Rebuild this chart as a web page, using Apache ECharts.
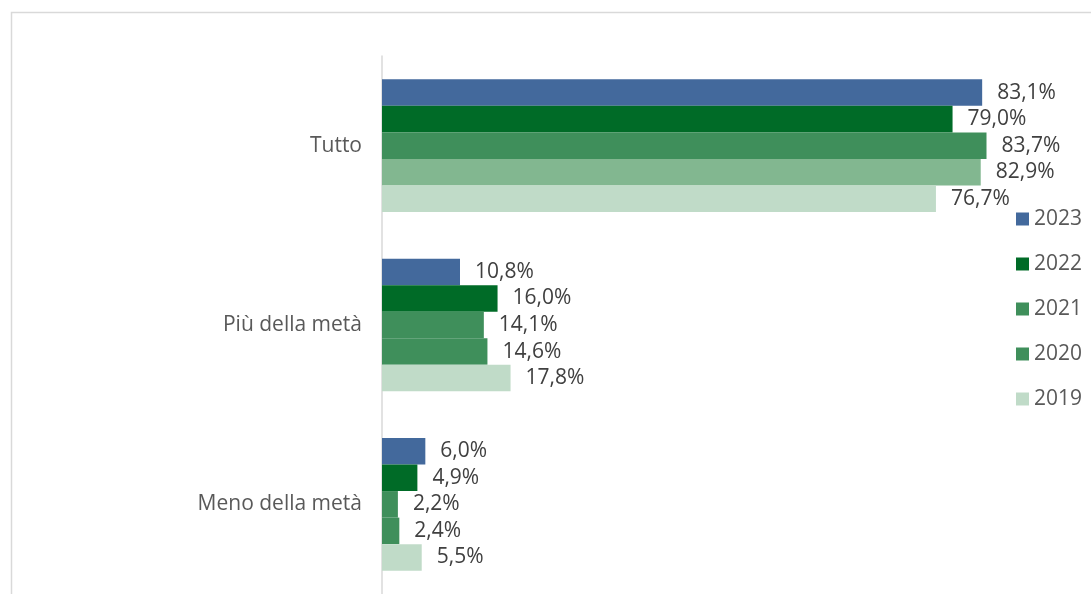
<!DOCTYPE html>
<html style="height: 100%">
<head>
	<meta charset="utf-8">
	<script src="https://cdn.jsdelivr.net/npm/echarts@6/dist/echarts.min.js"></script>
	<style>
		body { margin: 0; background: #fff; }
		#container { width: 1091px; height: 594px; }
	</style>
</head>
<body>
	<div id="container"></div>
	<script>
		// categorie (dall'alto)
		var categories = ['Tutto', 'Più della metà', 'Meno della metà'];
		var years = ['2023', '2022', '2021', '2020', '2019'];

		// valori in %
		var v2023 = [83.1, 10.8, 6.0];
		var v2022 = [79.0, 16.0, 4.9];
		var v2021 = [83.7, 14.1, 2.2];
		var v2020 = [82.9, 14.6, 2.4];
		var v2019 = [76.7, 17.8, 5.5];

		var colors = ['#43699C', '#006B27', '#3F8F5B', '#3F8F5B', '#C0DBC8'];

		var values = [v2023, v2022, v2021, v2020, v2019];

		var font = 'Open Sans';

		function fmt(p) {
			return p.value.toFixed(1).replace('.', ',') + '%';
		}

		var series = years.map(function(y, i) {
			var data = values[i].map(function(v, j) {
				// la barra 2020 di "Tutto" ha un verde più chiaro
				if(y === '2020' && j === 0) {
					return { value: v, itemStyle: { color: '#82B790' } };
				}
				return v;
			});
			return {
				name: y,
				type: 'bar',
				data: data,
				barGap: '0%',
				barCategoryGap: '26%',
				itemStyle: { color: colors[i] },
				label: {
					show: true,
					position: 'right',
					distance: 15,
					color: '#404040',
					fontFamily: font,
					fontSize: 21,
					formatter: fmt
				}
			};
		});

		var myChart = echarts.init(document.getElementById('container'));
		myChart.setOption({
			animation: false,
			backgroundColor: '#fff',
			graphic: [{
				type: 'rect',
				shape: { x: 11.5, y: 12.5, width: 1200, height: 700 },
				style: { fill: 'none', stroke: '#D9D9D9', lineWidth: 1.5 },
				silent: true
			}],
			legend: {
				orient: 'vertical',
				left: 1011,
				top: 203,
				itemWidth: 13,
				itemHeight: 13,
				itemGap: 23,
				icon: 'rect',
				textStyle: {
					color: '#595959',
					fontFamily: font,
					fontSize: 21,
					lineHeight: 22
				},
				data: years
			},
			grid: {
				left: 382,
				right: 59,
				top: 56,
				bottom: -8
			},
			xAxis: {
				type: 'value',
				min: 0,
				max: 90,
				show: false
			},
			yAxis: {
				type: 'category',
				data: categories,
				inverse: true,
				axisTick: { show: false },
				axisLine: { lineStyle: { color: '#D9D9D9', width: 1.5 } },
				axisLabel: {
					margin: 20,
					color: '#595959',
					fontFamily: font,
					fontSize: 21
				}
			},
			series: series
		});
	</script>
</body>
</html>
